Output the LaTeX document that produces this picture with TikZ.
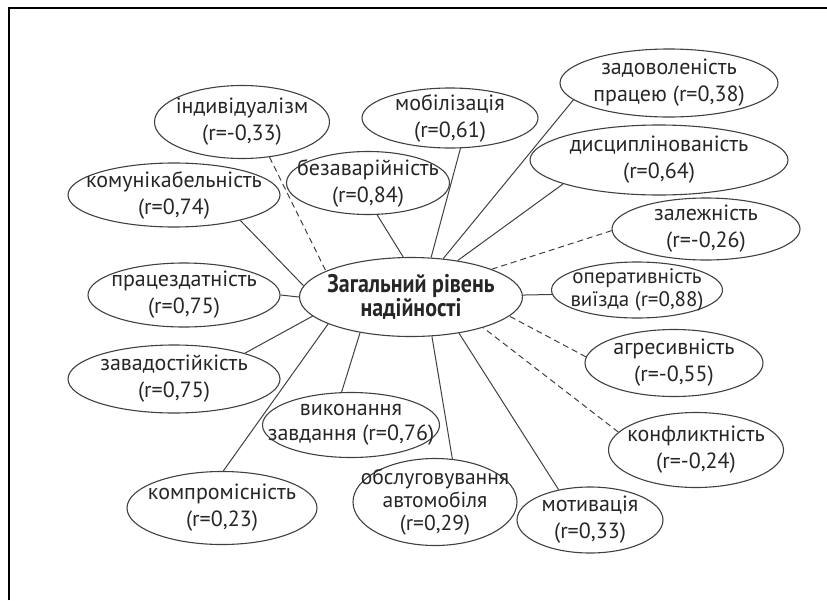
\documentclass[tikz,border=0pt]{standalone}
\usepackage{fontspec}
\setmainfont{PT Sans}
\newfontfamily\headfont{PT Sans}[FakeStretch=0.86]
\usetikzlibrary{shapes}
\tikzset{
  trait/.style={draw=black!75, line width=1.1pt, ellipse, inner sep=-40pt,
    align=center, text=black!85, font=\fontsize{22}{27}\selectfont},
  oval/.style 2 args={minimum width=#1pt, minimum height=#2pt},
  link/.style={draw=black!75, line width=1pt},
  neg/.style={link, dash pattern=on 6pt off 4pt}
}

\begin{document}
\begin{tikzpicture}[x=1pt,y=-1pt]
    \useasboundingbox (0,0) rectangle (827,600);
    \draw[line width=1.5pt] (9,600) -- (9,8) -- (827,8);
    \node[trait,oval={223}{79},font=\headfont\bfseries\fontsize{25.5}{24}\selectfont] (main) at (411,297) {Загальний рівень\\надійності};
    \node[trait,oval={175}{73}] (indiv) at (242,122) {індивідуалізм\\(r=-0,33)};
    \node[trait,oval={176}{60}] (mobil) at (450,118) {мобілізація\\(r=0,61)};
    \node[trait,oval={218}{68}] (zadov) at (669,83) {задоволеність\\працею (r=0,38)};
    \node[trait,oval={163}{63}] (bezav) at (368,183) {безаварійність\\(r=0,84)};
    \node[trait,oval={212}{64}] (komun) at (174,195) {комунікабельність\\(r=0,74)};
    \node[trait,oval={258}{70}] (dysc) at (659,160) {дисциплінованість\\(r=0,64)};
    \node[trait,oval={188}{62}] (zalezh) at (706,229) {залежність\\(r=-0,26)};
    \node[trait,oval={171}{56},font=\fontsize{21}{23}\selectfont] (operat) at (637,290) {оперативність\\виїзда (r=0,88)};
    \node[trait,oval={192}{64}] (pracez) at (184,295) {працездатність\\(r=0,75)};
    \node[trait,oval={212}{68}] (zavad) at (174,379) {завадостійкість\\(r=0,75)};
    \node[trait,oval={177}{65},font=\fontsize{22}{25}\selectfont] (vykon) at (351,425) {виконання\\завдання (r=0,76)};
    \node[trait,oval={190}{73}] (kompr) at (222,508) {компромісність\\(r=0,23)};
    \node[trait,oval={164}{87},font=\fontsize{21.5}{23}\selectfont] (obsl) at (435,502) {обслуговування\\автомобіля\\(r=0,29)};
    \node[trait,oval={146}{66}] (motyv) at (590,520) {мотивація\\(r=0,33)};
    \node[trait,oval={178}{67}] (agres) at (674,363) {агресивність\\(r=-0,55)};
    \node[trait,oval={175}{75}] (konfl) at (696,450) {конфликтність\\(r=-0,24)};
    \draw[neg] (indiv.-52) -- (main.163);
    \draw[link] (komun.-21) -- (main.174);
    \draw[link] (bezav.-74) -- (main.101);
    \draw[link] (mobil.-71) -- (main.63);
    \draw[link] (zadov.190) -- (main.50);
    \draw[link] (dysc.194) -- (main.38);
    \draw[neg] (zalezh.181) -- (main.19);
    \draw[link] (operat.183) -- (main.1);
    \draw[neg] (agres.176) -- (main.-11);
    \draw[neg] (konfl.167) -- (main.-23);
    \draw[link] (motyv.136) -- (main.-37);
    \draw[link] (obsl.68) -- (main.-62);
    \draw[link] (vykon.106) -- (main.215);
    \draw[link] (kompr.88) -- (main.198);
    \draw[link] (zavad.20) -- (main.191);
    \draw[link] (pracez.0) -- (main.180);
  \end{tikzpicture}
\end{document}
